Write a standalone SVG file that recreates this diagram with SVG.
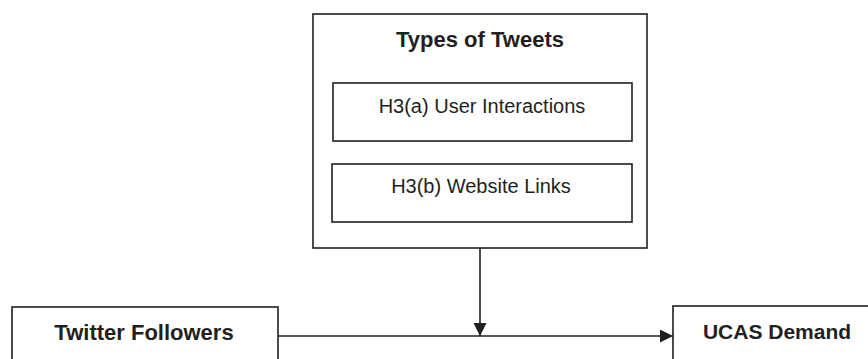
<svg xmlns="http://www.w3.org/2000/svg" width="868" height="359" viewBox="0 0 868 359">
<style>
.box{fill:#fff;stroke:#231f20;stroke-width:1.6}
.t{font-family:"Liberation Sans",Arial,sans-serif;fill:#231f20;text-anchor:middle}
.b{font-weight:bold;font-size:21px}
.b2{font-weight:bold;font-size:22px}
.r{font-size:20px}
.ln{stroke:#231f20;stroke-width:1.6;fill:none}
</style>
<defs>
<marker id="ah" viewBox="0 0 10 10" refX="10" refY="5" markerWidth="13" markerHeight="13" markerUnits="userSpaceOnUse" orient="auto">
<path d="M0,0 L10,5 L0,10 Z" fill="#231f20"/>
</marker>
</defs>
<g id="types">
<rect class="box" x="313" y="14" width="334" height="234"/>
<text class="t b2" x="480" y="47">Types of Tweets</text>
</g>
<g id="h3a">
<rect class="box" x="333" y="83" width="299" height="58"/>
<text class="t r" x="482" y="113">H3(a) User Interactions</text>
</g>
<g id="h3b">
<rect class="box" x="332" y="164" width="300" height="58"/>
<text class="t r" x="481" y="193">H3(b) Website Links</text>
</g>
<g id="followers">
<rect class="box" x="12" y="307" width="266" height="70"/>
<text class="t b2" x="144" y="340">Twitter Followers</text>
</g>
<g id="ucas">
<rect class="box" x="673" y="306" width="220" height="70"/>
<text class="t b" x="777" y="339">UCAS Demand</text>
</g>
<g id="connectors">
<line class="ln" x1="278" y1="336" x2="673" y2="336" marker-end="url(#ah)"/>
<line class="ln" x1="480" y1="248" x2="480" y2="336" marker-end="url(#ah)"/>
</g>
</svg>
